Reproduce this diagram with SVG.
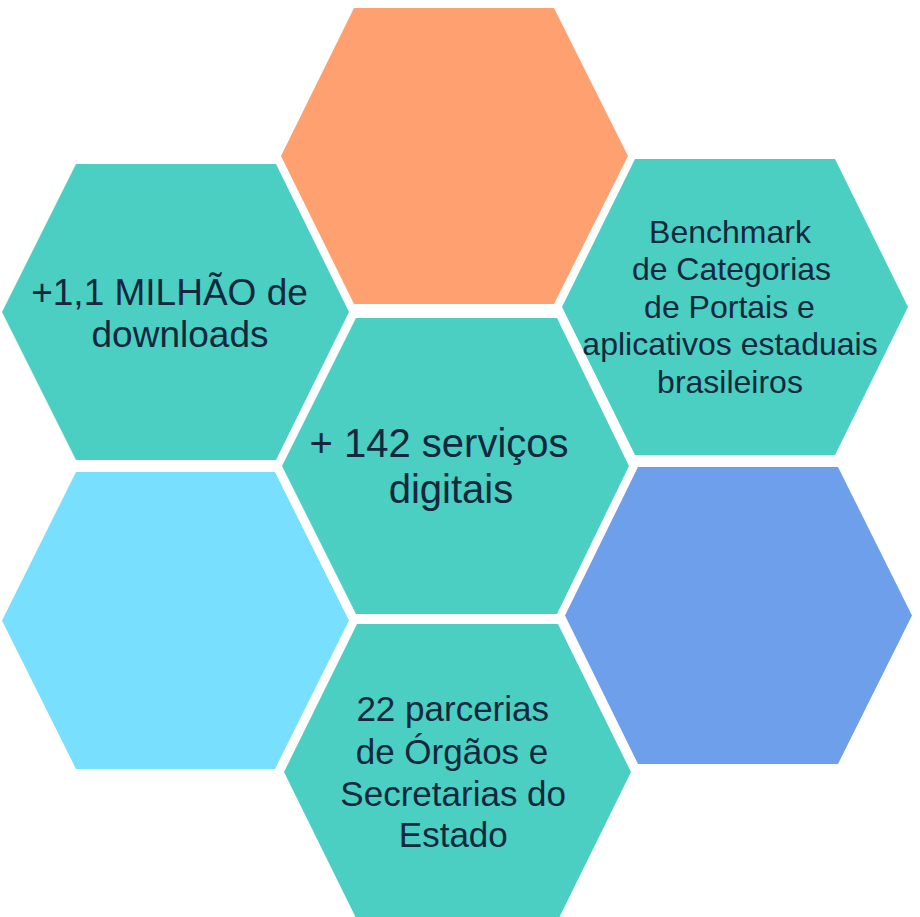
<svg xmlns="http://www.w3.org/2000/svg" width="920" height="917" viewBox="0 0 920 917">
<style>
.teal{fill:#4ACFC2}
.orange{fill:#FFA070}
.lblue{fill:#79DFFF}
.blue{fill:#6E9FEA}
text{font-family:"Liberation Sans",Arial,sans-serif;fill:#14283D;text-anchor:middle}
</style>
<rect width="920" height="917" fill="#FFFFFF"/>
<g id="hex-top">
<polygon class="orange" points="354,8 554,8 628,156 554,304 354,304 281,156"/>
</g>
<g id="hex-left-top">
<polygon class="teal" points="76,164 276,164 349,312 276,460 76,460 2,312"/>
<text font-size="37"><tspan x="169.5" y="304.5">+1,1 MILHÃO de</tspan><tspan x="180" y="346.7">downloads</tspan></text>
</g>
<g id="hex-right-top">
<polygon class="teal" points="635,159 835,159 908,307 835,455 635,455 562,307"/>
<text font-size="32"><tspan x="730" y="242.5">Benchmark</tspan><tspan x="731.5" y="280">de Categorias</tspan><tspan x="729.5" y="317.5">de Portais e</tspan><tspan x="730" y="355">aplicativos estaduais</tspan><tspan x="730" y="392.5">brasileiros</tspan></text>
</g>
<g id="hex-center">
<polygon class="teal" points="356,318 557,318 629,466 557,614 356,614 282,466"/>
<text font-size="40"><tspan x="439" y="456.7">+ 142 serviços</tspan><tspan x="451" y="503">digitais</tspan></text>
</g>
<g id="hex-left-bottom">
<polygon class="lblue" points="76,472 275,472 349,620.5 275,769 76,769 2,620.5"/>
</g>
<g id="hex-right-bottom">
<polygon class="blue" points="638,467 838,467 912,615.5 838,764 638,764 565,615.5"/>
</g>
<g id="hex-bottom">
<polygon class="teal" points="357,624 558,624 631,772 558,920 357,920 284,772"/>
<text font-size="35"><tspan x="452.7" y="721">22 parcerias</tspan><tspan x="452" y="763.5">de Órgãos e</tspan><tspan x="453.2" y="805.5">Secretarias do</tspan><tspan x="453.3" y="847.3">Estado</tspan></text>
</g>
<g id="connectors"/>
</svg>
